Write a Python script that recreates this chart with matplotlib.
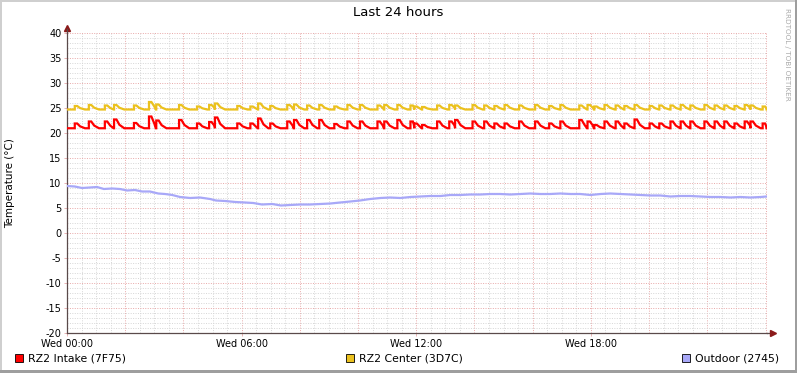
import matplotlib
matplotlib.use("Agg")
import matplotlib.pyplot as plt
from matplotlib.patches import Rectangle
from matplotlib.ticker import MultipleLocator, FixedLocator

plt.rcParams["axes.unicode_minus"] = False

# ---------------- data (minutes since Wed 00:00) ----------------
spike_minutes = [16, 45, 78, 97, 138, 169, 184, 231, 268, 293, 305, 351, 378, 394, 419,
                 454, 468, 495, 520, 551, 578, 604, 640, 654, 681, 708, 716, 732, 763,
                 788, 800, 836, 860, 881, 902, 932, 965, 994, 1017, 1056, 1073, 1087,
                 1108, 1131, 1149, 1170, 1201, 1221, 1244, 1265, 1285, 1314, 1335, 1355,
                 1376, 1397, 1409, 1434]
intake_peaks = [21.9, 22.3, 22.3, 22.7, 22.0, 23.3, 22.5, 22.6, 21.9, 22.2, 23.1, 21.9,
                21.9, 22.9, 21.9, 22.3, 22.6, 22.6, 22.6, 21.8, 22.3, 22.3, 22.3, 22.3,
                22.6, 22.3, 21.9, 21.6, 22.3, 22.3, 22.6, 22.3, 22.3, 21.9, 21.9, 22.3,
                22.3, 21.9, 22.3, 22.6, 22.3, 21.6, 22.3, 22.3, 21.9, 22.7, 21.9, 21.9,
                22.3, 22.3, 22.3, 22.3, 22.3, 22.3, 21.9, 22.3, 22.3, 21.9]
center_peaks = [25.4, 25.6, 25.5, 25.6, 25.5, 26.2, 25.7, 25.6, 25.3, 25.6, 25.9, 25.4,
                25.3, 25.9, 25.4, 25.6, 25.7, 25.5, 25.6, 25.3, 25.6, 25.6, 25.5, 25.6,
                25.6, 25.5, 25.3, 25.2, 25.5, 25.6, 25.5, 25.6, 25.5, 25.4, 25.6, 25.5,
                25.6, 25.4, 25.6, 25.5, 25.6, 25.3, 25.6, 25.5, 25.4, 25.6, 25.4, 25.5,
                25.5, 25.6, 25.5, 25.6, 25.5, 25.5, 25.4, 25.6, 25.5, 25.3]
intake_base = 20.95
center_base = 24.7
data_end = 1442

outdoor_minutes = [0, 16, 31, 47, 62, 76, 93, 109, 124, 140, 155, 171, 188, 202, 217, 233,
                   254, 274, 295, 307, 326, 347, 367, 384, 402, 423, 441, 460, 481, 501,
                   522, 543, 563, 584, 604, 625, 646, 666, 687, 708, 728, 749, 770, 790,
                   811, 831, 852, 873, 893, 914, 935, 955, 976, 996, 1017, 1038, 1058,
                   1079, 1100, 1120, 1141, 1162, 1182, 1203, 1223, 1244, 1265, 1285, 1306,
                   1327, 1347, 1368, 1388, 1409, 1430, 1442]
outdoor_values = [9.4, 9.3, 9.0, 9.1, 9.2, 8.8, 8.9, 8.8, 8.5, 8.6, 8.3, 8.3, 7.9, 7.8,
                  7.6, 7.2, 7.0, 7.1, 6.8, 6.5, 6.4, 6.2, 6.1, 6.0, 5.7, 5.8, 5.5, 5.6,
                  5.7, 5.7, 5.8, 5.9, 6.1, 6.3, 6.5, 6.8, 7.0, 7.1, 7.0, 7.2, 7.3, 7.4,
                  7.4, 7.6, 7.6, 7.7, 7.7, 7.8, 7.8, 7.7, 7.8, 7.9, 7.8, 7.8, 7.9, 7.8,
                  7.8, 7.6, 7.8, 7.9, 7.8, 7.7, 7.6, 7.5, 7.5, 7.3, 7.4, 7.4, 7.3, 7.2,
                  7.2, 7.1, 7.2, 7.1, 7.2, 7.3]

x_tick_minutes = [0, 360, 720, 1080]
x_tick_labels = ["Wed 00:00", "Wed 06:00", "Wed 12:00", "Wed 18:00"]
series_names = ["RZ2 Intake (7F75)", "RZ2 Center (3D7C)", "Outdoor (2745)"]
series_colors = ["#FF0000", "#EBC11E", "#A8A8F8"]


def spike_path(times, peaks, base, end):
    xs, ys = [0], [base]
    for i, (t, p) in enumerate(zip(times, peaks)):
        nxt = times[i + 1] if i + 1 < len(times) else end
        xs += [t, t, t + 5]
        ys += [base, p, p]
        mid = min(t + 11, nxt - 1)
        frac = 0.4 if mid == t + 11 else 0.55
        xs.append(mid)
        ys.append(base + (p - base) * frac)
        stop = min(t + 21, nxt - 1)
        if stop > mid:
            xs.append(stop)
            ys.append(base)
    xs.append(end)
    ys.append(base)
    return xs, ys


W, H = 797, 373
fig = plt.figure(figsize=(W / 100, H / 100), dpi=100)
fig.patch.set_facecolor("#FFFFFF")

x0, x1, ytop, ybot = 67, 767, 33, 333
ax = fig.add_axes([x0 / W, (H - ybot) / H, (x1 - x0) / W, (ybot - ytop) / H])
ax.set_facecolor("#FFFFFF")
ax.set_xlim(0, 1443)
ax.set_ylim(-20, 40)

# grid
ax.xaxis.set_major_locator(FixedLocator(x_tick_minutes))
ax.xaxis.set_minor_locator(MultipleLocator(30))
ax.yaxis.set_major_locator(MultipleLocator(5))
ax.yaxis.set_minor_locator(MultipleLocator(1))
for v in range(0, 1444, 30):
    col = "#E8A8A8" if v % 120 == 0 else "#D6D6D6"
    ax.axvline(v, color=col, lw=0.7, ls=(0, (1, 1.5)), zorder=0)
for v in range(-20, 41):
    col = "#E8A8A8" if v % 5 == 0 else "#D6D6D6"
    ax.axhline(v, color=col, lw=0.7, ls=(0, (1, 1.5)), zorder=0)

ax.set_xticks(x_tick_minutes)
ax.set_xticklabels(x_tick_labels)
ax.tick_params(axis="both", which="major", length=2, width=0.6, color="#E8A8A8",
               labelsize=7, pad=1)
ax.tick_params(axis="both", which="minor", length=0)
ax.tick_params(axis="x", which="major", length=2, pad=2)
ax.tick_params(axis="y", which="major", pad=2)

for s in ["top", "right"]:
    ax.spines[s].set_visible(False)
for s in ["left", "bottom"]:
    ax.spines[s].set_color("#5A4A4A")
    ax.spines[s].set_linewidth(0.9)

# arrows
ax.plot([0], [1.018], marker="^", color="#8B1A1A", markersize=4, transform=ax.transAxes,
        clip_on=False)
ax.plot([0, 0], [1.0, 1.015], color="#5A4A4A", lw=0.9, transform=ax.transAxes, clip_on=False)
ax.plot([1.0, 1.006], [0, 0], color="#5A4A4A", lw=0.9, transform=ax.transAxes, clip_on=False)
ax.plot([1.008], [0], marker=">", color="#8B1A1A", markersize=4, transform=ax.transAxes,
        clip_on=False)

# series
rx, ry = spike_path(spike_minutes, intake_peaks, intake_base, data_end)
cx, cy = spike_path(spike_minutes, center_peaks, center_base, data_end)
ax.plot(rx, ry, color=series_colors[0], lw=1.6, zorder=3, solid_joinstyle="miter")
ax.plot(cx, cy, color=series_colors[1], lw=1.6, zorder=3, solid_joinstyle="miter")
ax.plot(outdoor_minutes, outdoor_values, color=series_colors[2], lw=1.6, zorder=3)

ax.set_ylabel("Temperature (°C)", fontsize=7.5, labelpad=6)
ax.yaxis.set_label_coords(-52 / 700, 0.5)

fig.text(398 / W, 1 - 13 / H, "Last 24 hours", ha="center", va="center", fontsize=9.5)
fig.text(787 / W, 1 - 8 / H, "RRDTOOL / TOBI OETIKER", rotation=270, ha="center", va="top",
         fontsize=5.2, color="#AAAAAA")

# legend
leg_x = [15, 346, 682]
for lx, name, col in zip(leg_x, series_names, series_colors):
    fig.patches.append(Rectangle((lx / W, 1 - 362 / H), 8 / W, 8 / H, transform=fig.transFigure,
                                 facecolor=col, edgecolor="#000000", lw=0.6))
    fig.text((lx + 13) / W, 1 - 358.5 / H, name, ha="left", va="center", fontsize=7.8)

# border shading
b = 2
fig.patches.append(Rectangle((0, 1 - b / H), 1, b / H, transform=fig.transFigure,
                             facecolor="#CFCFCF", edgecolor="none"))
fig.patches.append(Rectangle((0, 0), b / W, 1, transform=fig.transFigure,
                             facecolor="#CFCFCF", edgecolor="none"))
fig.patches.append(Rectangle((0, 0), 1, 3 / H, transform=fig.transFigure,
                             facecolor="#9E9E9E", edgecolor="none"))
fig.patches.append(Rectangle((1 - 2 / W, 0), 2 / W, 1, transform=fig.transFigure,
                             facecolor="#9E9E9E", edgecolor="none"))

fig.savefig("out.png", dpi=100)
